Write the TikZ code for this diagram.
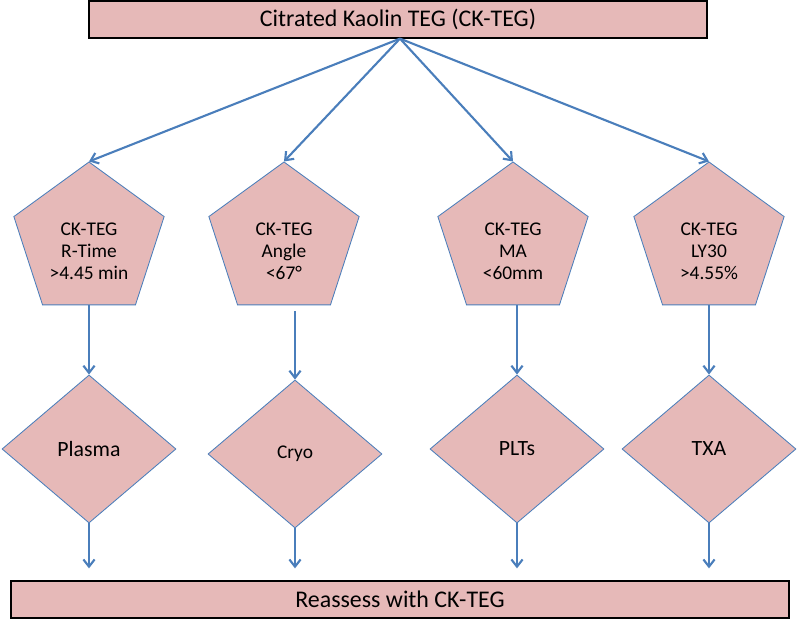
\documentclass[tikz,border=0pt]{standalone}
\usepackage{fontspec}
\setmainfont{Carlito}
\usepackage{tikz}
\usetikzlibrary{arrows.meta,shapes.geometric}
\usetikzlibrary{positioning}
\definecolor{tegpink}{HTML}{E6B9B8}
\definecolor{tegblue}{HTML}{4A7EBB}
\tikzset{
    panel/.style={
           rectangle,
           draw=black,
           line width=0.9pt,
           fill=tegpink,
           minimum height=0.925cm,
           inner sep=2pt,
           font=\fontsize{17}{20}\selectfont,
           },
    testbox/.style={
           regular polygon,
           regular polygon sides=5,
           draw=tegblue,
           line width=0.6pt,
           fill=tegpink,
           minimum size=3.95cm,
           inner sep=0pt,
           },
    component/.style={
           diamond,
           draw=tegblue,
           line width=0.6pt,
           fill=tegpink,
           minimum width=4.35cm,
           minimum height=3.7cm,
           inner sep=0pt,
           font=\fontsize{15.5}{18}\selectfont,
           },
    reading/.style={
           align=center,
           yshift=-0.25cm,
           font=\fontsize{13.8}{15.6}\selectfont,
           },
}

\begin{document}
\begin{tikzpicture}[->,>={Straight Barb[length=1.8mm,width=2.8mm]},every edge/.style={draw=tegblue,line width=1.5pt}]
 \useasboundingbox (0,0) rectangle (20,-15.475);

 \node[panel, minimum width=15.45cm] (TOP) at (9.95,-0.4875)
 {Citrated Kaolin TEG (CK-TEG)};
 \coordinate (SPLIT) at ([xshift=0.05cm]TOP.south);

 \node[testbox, label={[reading]center:CK-TEG\\R-Time\\>4.45 min}]
 (RTIME) at (2.225,-6.025) {};

 \node[testbox,
 node distance=4.875cm,
 right of=RTIME,
 label={[reading]center:CK-TEG\\Angle\\<67°}] (ANGLE) {};

 \node[testbox,
 node distance=5.725cm,
 right of=ANGLE,
 label={[reading]center:CK-TEG\\MA\\<60mm}] (MA) {};

 \node[testbox,
 node distance=4.9cm,
 right of=MA,
 label={[reading]center:CK-TEG\\LY30\\>4.55\%}] (LY30) {};

 \node[component,
 node distance=5.2cm,
 below of=RTIME] (PLASMA) {Plasma};

 \node[component,
 node distance=5.325cm,
 below of=ANGLE,
 xshift=0.275cm,
 font=\fontsize{13.8}{16}\selectfont] (CRYO) {Cryo};

 \node[component,
 node distance=5.2cm,
 below of=MA,
 xshift=0.1cm] (PLTS) {PLTs};

 \node[component,
 node distance=5.2cm,
 below of=LY30] (TXA) {TXA};

 \node[panel, minimum width=19.45cm] (REASSESS) at (10,-14.9875)
 {Reassess with CK-TEG};

 \path (SPLIT) edge (RTIME.north)
   (SPLIT) edge (ANGLE.north)
   (SPLIT) edge (MA.north)
   (SPLIT) edge (LY30.north)
   (RTIME.south) edge (PLASMA.north)
   (ANGLE.south -| CRYO.north) edge[shorten <=0.15cm] (CRYO.north)
   (MA.south -| PLTS.north) edge (PLTS.north)
   (LY30.south) edge (TXA.north)
   (PLASMA.south) edge[shorten >=0.3cm] (PLASMA.south |- REASSESS.north)
   (CRYO.south) edge[shorten >=0.3cm] (CRYO.south |- REASSESS.north)
   (PLTS.south) edge[shorten >=0.3cm] (PLTS.south |- REASSESS.north)
   (TXA.south) edge[shorten >=0.3cm] (TXA.south |- REASSESS.north)
 ;
\end{tikzpicture}
\end{document}
